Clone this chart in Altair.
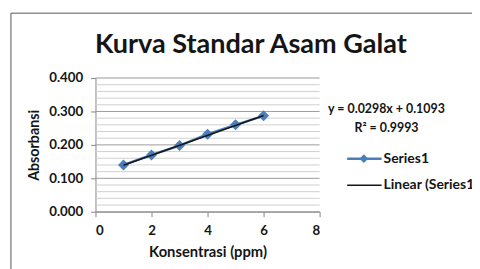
import altair as alt
import pandas as pd

konsentrasi = [1, 2, 3, 4, 5, 6]
absorbansi = [0.140, 0.170, 0.198, 0.232, 0.260, 0.287]
slope = 0.0298
intercept = 0.1093
r_squared = 0.9993
x_ticks = [0, 2, 4, 6, 8]
y_major = [0.0, 0.1, 0.2, 0.3, 0.4]
y_minor = [0.02, 0.04, 0.06, 0.08, 0.12, 0.14, 0.16, 0.18, 0.22, 0.24, 0.26, 0.28,
           0.32, 0.34, 0.36, 0.38]
legend_labels = ["Series1", "Linear (Series1)"]
title_text = "Kurva Standar Asam Galat"

FONT = "Lato"
BLUE = "#4a7ebb"
INK = "#151515"
W, H = 228, 136

df = pd.DataFrame({"x": konsentrasi, "y": absorbansi})
trend = pd.DataFrame({"x": [min(konsentrasi), max(konsentrasi)]})
trend["y"] = slope * trend["x"] + intercept

xs = alt.Scale(domain=[0, 8], nice=False, zero=False)
ys = alt.Scale(domain=[0, 0.4], nice=False, zero=False)

y_axis = alt.Axis(values=y_major, format=".3f", title="Absorbansi", grid=False,
                  labelOverlap=False, tickCount=5, tickSize=5, tickColor="#868686",
                  domainColor="#868686", labelFont=FONT, labelFontSize=13.5,
                  labelColor=INK, labelFontWeight="bold", labelPadding=8,
                  titleFont=FONT, titleFontSize=14.5, titleFontWeight="bold",
                  titleColor=INK, titlePadding=7)
x_axis = alt.Axis(values=x_ticks, title="Konsentrasi (ppm)", grid=False, tickSize=5,
                  labelOverlap=False, tickColor="#868686", domainColor="#868686",
                  labelFont=FONT, labelFontSize=13.5, labelColor=INK,
                  labelFontWeight="bold", labelPadding=7, titleFont=FONT,
                  titleFontSize=15, titleFontWeight="bold", titleColor=INK,
                  titlePadding=8)

minor = alt.Chart(pd.DataFrame({"v": y_minor})).mark_rule(color="#cfcfcf", strokeWidth=1).encode(
    y=alt.Y("v:Q", scale=ys, axis=y_axis), x=alt.value(0), x2=alt.value(W),
)
major = alt.Chart(pd.DataFrame({"v": y_major})).mark_rule(color="#9a9a9a", strokeWidth=1).encode(
    y=alt.Y("v:Q", scale=ys, axis=y_axis), x=alt.value(0), x2=alt.value(W),
)

series_line = alt.Chart(df).mark_line(color=BLUE, strokeWidth=2.5).encode(
    x=alt.X("x:Q", scale=xs, axis=x_axis),
    y=alt.Y("y:Q", scale=ys, axis=y_axis),
)
points = alt.Chart(df).mark_point(shape="diamond", filled=True, size=125, color=BLUE, opacity=1).encode(
    x=alt.X("x:Q", scale=xs, axis=x_axis), y=alt.Y("y:Q", scale=ys, axis=y_axis),
)
trend_line = alt.Chart(trend).mark_line(color=INK, strokeWidth=1.5).encode(
    x=alt.X("x:Q", scale=xs, axis=x_axis), y=alt.Y("y:Q", scale=ys, axis=y_axis),
)

eq_text = f"y = {slope}x + {intercept}"
r2_text = f"R² = {r_squared}"
ann = alt.Chart(pd.DataFrame({"t": [eq_text, r2_text], "yy": [32, 51]})).mark_text(
    font=FONT, fontSize=12.6, fontWeight="bold", color=INK, align="center", baseline="middle"
).encode(x=alt.value(296), y=alt.Y("yy:Q", scale=None), text="t:N")

one = pd.DataFrame({"a": [0]})
leg_line1 = alt.Chart(one).mark_rule(color=BLUE, strokeWidth=2.5).encode(
    x=alt.value(256), x2=alt.value(291), y=alt.value(82))
leg_pt = alt.Chart(one).mark_point(shape="diamond", filled=True, size=80, color=BLUE, opacity=1).encode(
    x=alt.value(273), y=alt.value(82))
leg_line2 = alt.Chart(one).mark_rule(color=INK, strokeWidth=1.5).encode(
    x=alt.value(256), x2=alt.value(291), y=alt.value(109))
leg_text = alt.Chart(pd.DataFrame({"t": legend_labels, "yy": [82, 109]})).mark_text(
    font=FONT, fontSize=14.2, fontWeight="bold", color=INK, align="left", baseline="middle"
).encode(x=alt.value(293), y=alt.Y("yy:Q", scale=None), text="t:N")

title = alt.Chart(pd.DataFrame({"t": [title_text]})).mark_text(
    font=FONT, fontSize=27.5, fontWeight="bold", color=INK, align="center", baseline="alphabetic"
).encode(x=alt.value(158), y=alt.value(-25), text="t:N")

border_top = alt.Chart(one).mark_rule(color="#555", strokeWidth=1).encode(
    x=alt.value(-86), x2=alt.value(500), y=alt.value(-66))
border_left = alt.Chart(one).mark_rule(color="#555", strokeWidth=1).encode(
    x=alt.value(-86), y=alt.value(-66), y2=alt.value(300))

chart = alt.layer(
    minor, major, series_line, points, trend_line, ann,
    leg_line1, leg_pt, leg_line2, leg_text, title, border_top, border_left
).properties(
    width=W, height=H,
    autosize=alt.AutoSizeParams(type="none"),
    padding={"left": 89, "top": 69, "right": 155, "bottom": 56},
).configure_view(stroke=None)

chart.save("out.html", embed_options={"renderer": "svg", "actions": False})
